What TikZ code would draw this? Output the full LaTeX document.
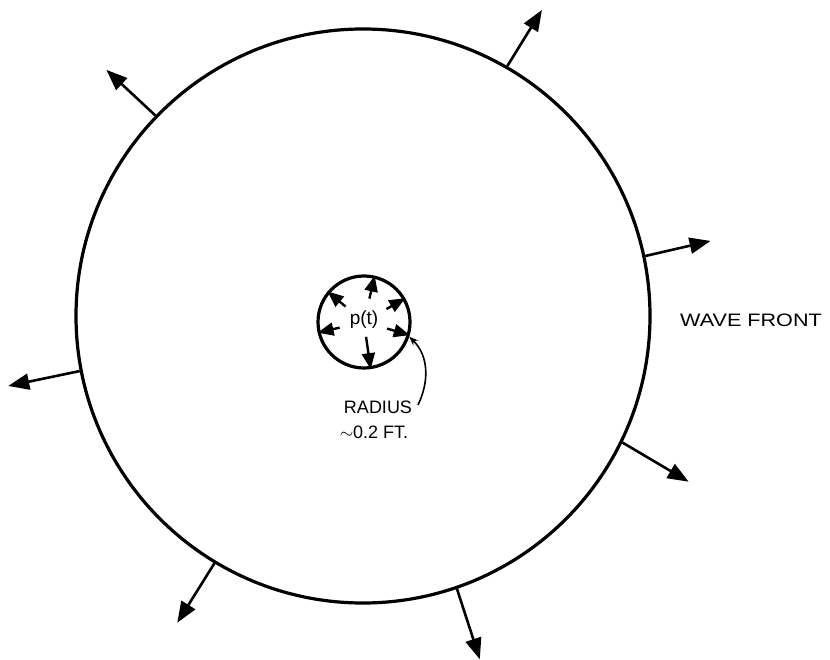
\documentclass[tikz,border=0pt]{standalone}
\usepackage{fontspec}
\setmainfont{Liberation Sans}
\usetikzlibrary{arrows.meta,calc}
\begin{document}
\begin{tikzpicture}[x=1pt,y=-1pt,
  ring/.style={draw,circle,line width=3.2pt,inner sep=0pt},
  outarrow/.style={line width=2.6pt,-{Triangle[length=21pt,width=16pt]}},
  inarrow/.style={line width=2.4pt,-{Triangle[length=16pt,width=13pt]}},
  lbl/.style={font=\fontsize{18}{20}\selectfont,inner sep=0pt}]
\useasboundingbox (0,0) rectangle (830,660);
\node[ring,minimum size=574pt] (wave) at (363,316) {};
\node[ring,minimum size=92pt] (src) at (364,322) {};
\coordinate (c) at (364,322);
% outward arrows
\draw[outarrow] (wave.60.8) -- ++(58.3:66pt) coordinate (o1);
\draw[outarrow] (wave.136) -- ++(137:67pt) coordinate (o2);
\draw[outarrow] (wave.12.1) -- ++(13:67pt) coordinate (o3);
\draw[outarrow] (wave.191.5) -- ++(191.8:73pt) coordinate (o4);
\draw[outarrow] (wave.-26) -- ++(-30.6:77pt) coordinate (o5);
\draw[outarrow] (wave.239.4) -- ++(238:70pt) coordinate (o6);
\draw[outarrow] (wave.-71) -- ++(-72:74pt) coordinate (o7);
% inner arrows
\foreach \a/\r in {140/24,77/24,30/26,193/25,-16/24,-82/15}{
  \draw[inarrow] ($(c)+(\a:\r pt)$) -- (src.\a);
}
\node[lbl,font=\fontsize{19}{21}\selectfont] (p) at (364,320) {p(t)};
\node[lbl] (rad) at (378,407) {RADIUS};
\node[lbl] (ft) at (374,432) {$\sim$0.2 FT.};
\node[lbl,xscale=1.2] (wf) at (751,320) {WAVE FRONT};
\draw[line width=1.6pt,-{Stealth[length=9pt,width=7pt]}] (418,405) .. controls (430,380) and (428,355) .. (src.-18);
\end{tikzpicture}
\end{document}
